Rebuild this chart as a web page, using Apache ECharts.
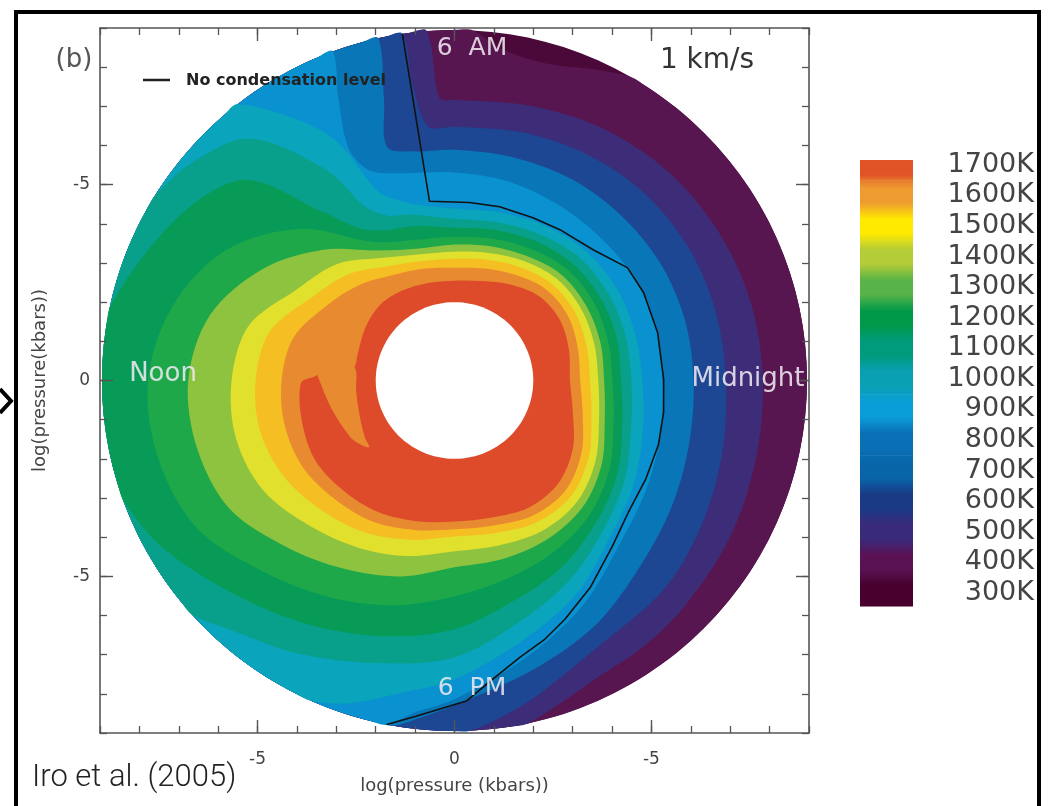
<!DOCTYPE html>
<html>
<head>
<meta charset="utf-8">
<script src="https://cdn.jsdelivr.net/npm/echarts@6.0.0/dist/echarts.min.js"></script>
<style>
  html, body { margin: 0; padding: 0; background: #fff; }
  #chart { width: 1052px; height: 806px; }
</style>
</head>
<body>
<div id="chart"></div>
<script>
// colour bar levels (K), hottest first
const levels = [1700, 1600, 1500, 1400, 1300, 1200, 1100, 1000, 900, 800, 700, 600, 500, 400, 300]

// outer edge of the map and the inner hole, in log(pressure) units
const rimRadius = 8.95
const holeRadius = 2.0

// isotherms: [angle in degrees (0 = midnight, 90 = 6 AM, 180 = noon), radius]
const edge1700 = [[0, 2.93], [15, 3.01], [30, 3.09], [45, 3.04], [60, 2.83], [75, 2.63], [90, 2.55], [105, 2.58], [120, 2.65], [135, 2.70], [150, 2.63], [165, 2.55], [172, 2.58], [176, 3.27], [178.5, 3.57], [181, 3.90], [195, 4.01], [210, 4.08], [225, 3.98], [240, 3.88], [255, 3.72], [270, 3.60], [285, 3.62], [300, 3.75], [315, 3.72], [330, 3.47], [345, 3.11]]
// cooler pocket that cuts into the 1700K region on the day side
const pocket1600 = [[168.7, 2.73], [171.7, 3.34], [176.2, 3.49], [181.7, 3.39], [188.5, 3.27], [196, 3.16], [204, 3.06], [211, 2.98], [218.2, 2.76], [212.6, 2.70], [203.8, 2.60], [194, 2.53], [185.2, 2.51], [174.8, 2.51]]
const edge1600 = [[0, 3.19], [15, 3.24], [30, 3.32], [45, 3.29], [60, 3.11], [75, 2.96], [90, 2.88], [105, 2.96], [120, 3.11], [135, 3.44], [150, 3.78], [165, 4.23], [180, 4.39], [195, 4.46], [210, 4.44], [225, 4.29], [240, 4.16], [255, 3.95], [270, 3.80], [285, 3.83], [300, 3.98], [315, 3.98], [330, 3.72], [345, 3.37]]
const edge1500 = [[0, 3.44], [15, 3.47], [30, 3.52], [45, 3.49], [60, 3.34], [75, 3.19], [90, 3.11], [105, 3.16], [120, 3.37], [135, 3.83], [150, 4.21], [165, 4.85], [180, 5.05], [195, 5.10], [210, 4.97], [225, 4.72], [240, 4.49], [255, 4.21], [270, 3.98], [285, 4.03], [300, 4.18], [315, 4.18], [330, 3.93], [345, 3.60]]
const edge1400 = [[0, 3.65], [15, 3.67], [30, 3.70], [45, 3.67], [60, 3.52], [75, 3.37], [90, 3.29], [105, 3.34], [120, 3.62], [135, 4.21], [150, 4.64], [165, 5.41], [180, 5.66], [195, 5.74], [210, 5.61], [225, 5.23], [240, 4.92], [255, 4.64], [270, 4.36], [285, 4.36], [300, 4.44], [315, 4.39], [330, 4.13], [345, 3.80]]
const edge1300 = [[0, 3.80], [15, 3.83], [30, 3.85], [45, 3.83], [60, 3.67], [75, 3.55], [90, 3.47], [105, 3.49], [120, 3.83], [135, 4.72], [150, 5.66], [165, 6.43], [180, 6.76], [195, 6.76], [210, 6.58], [225, 6.02], [240, 5.56], [255, 5.18], [270, 4.77], [285, 4.72], [300, 4.69], [315, 4.59], [330, 4.31], [345, 3.95]]
const edge1200 = [[0, 4.01], [15, 4.03], [30, 4.06], [45, 4.03], [60, 3.88], [75, 3.75], [90, 3.67], [105, 3.72], [120, 4.08], [135, 5.48], [150, 6.68], [165, 7.40], [180, 7.78], [195, 7.78], [210, 7.55], [225, 6.89], [240, 6.38], [255, 5.94], [270, 5.51], [285, 5.23], [300, 5.05], [315, 4.85], [330, 4.54], [345, 4.18]]
const edge1100 = [[0, 4.23], [15, 4.26], [30, 4.26], [45, 4.23], [60, 4.11], [75, 3.98], [90, 3.90], [105, 4.08], [115, 4.23], [122, 4.59], [128, 5.48], [135.6, 7.32], [145, 7.98], [157, 8.47], [168, 8.95], [200, 8.95], [210, 8.55], [225, 7.78], [240, 7.22], [255, 6.76], [270, 6.35], [285, 5.82], [300, 5.48], [315, 5.10], [330, 4.77], [345, 4.41]]
const edge1000 = [[0, 4.49], [15, 4.49], [30, 4.49], [45, 4.46], [60, 4.31], [75, 4.18], [90, 4.13], [105, 4.39], [112, 4.54], [117, 4.97], [121, 6.25], [130, 8.06], [140, 8.67], [148, 8.95], [222, 8.95], [228, 8.55], [240, 8.04], [255, 7.47], [270, 7.07], [285, 6.38], [300, 5.87], [315, 5.36], [330, 5.00], [345, 4.64]]
const edge900 = [[0, 4.77], [15, 4.74], [30, 4.74], [45, 4.69], [60, 4.57], [75, 4.44], [90, 4.39], [100, 4.54], [107, 4.80], [112, 5.23], [116, 6.76], [121, 7.78], [128, 8.95], [246, 8.95], [252, 8.67], [260, 8.11], [270, 7.63], [285, 6.84], [300, 6.25], [315, 5.61], [330, 5.26], [345, 4.95]]
const edge800 = [[0, 5.28], [15, 5.28], [30, 5.26], [45, 5.20], [60, 5.20], [75, 5.26], [90, 5.31], [105, 5.48], [112, 5.79], [114.4, 6.48], [112.3, 7.76], [110.2, 8.95], [259, 8.95], [263, 8.55], [270, 8.14], [285, 7.27], [300, 6.58], [315, 5.92], [330, 5.61], [345, 5.41]]
const edge700 = [[0, 6.07], [15, 6.05], [30, 6.02], [45, 5.97], [60, 5.94], [75, 5.89], [90, 5.89], [100, 5.94], [106, 6.20], [104, 7.40], [102.5, 8.95], [260, 8.95], [264, 8.67], [270, 8.29], [285, 7.65], [300, 7.19], [315, 6.68], [330, 6.38], [345, 6.17]]
const edge600 = [[0, 6.89], [15, 6.86], [30, 6.84], [45, 6.79], [60, 6.68], [75, 6.56], [90, 6.48], [96, 6.53], [98, 7.65], [98.5, 8.95], [272.5, 8.95], [278, 8.67], [285, 8.29], [297.5, 7.73], [315, 7.53], [330, 7.27], [345, 7.04]]
const edge500 = [[0, 7.83], [15, 7.78], [30, 7.70], [45, 7.60], [60, 7.45], [75, 7.27], [90, 7.17], [93, 7.22], [94.5, 8.95], [282, 8.95], [288, 8.67], [295, 8.42], [304.5, 8.32], [315, 8.21], [330, 8.06], [345, 7.91]]
const edge400 = [[0, 8.95], [60, 8.95], [66, 8.70], [74, 8.42], [82, 8.55], [87, 8.95], [180, 8.95], [270, 8.95]]

// "No condensation level" curve, [angle, radius]
const noCondensation = [[98.5, 8.95], [97.9, 4.62], [85.2, 4.56], [75.5, 4.58], [64.4, 4.61], [55.2, 4.69], [43.5, 4.85], [33.3, 5.25], [25.1, 5.30], [13.4, 5.30], [0.3, 5.31], [-8.7, 5.37], [-17.5, 5.43], [-27.5, 5.47], [-37.3, 5.55], [-46.6, 5.83], [-56.9, 6.31], [-65.3, 6.71], [-70.8, 6.99], [-76.8, 7.26], [-82.8, 7.69], [-87.9, 8.19], [-96.5, 8.63], [-101.1, 8.95]]

// axis ticks
const majorTicks = [-5, 0, 5]

// colours of the filled bands and of the colour bar, same order as levels
const bandColors = ['#DD4B2A', '#E88A2F', '#F5BE23', '#E1E02C', '#8DC33F', '#1EA84A', '#079B57', '#08A08B', '#0AA4BC', '#0A91D0', '#0976B7', '#1D4792', '#3D2C78', '#581651', '#4A0939']
const barColors = ['#E05428', '#EE9C30', '#FFEA00', '#B4CC38', '#58B448', '#00994A', '#009A7C', '#0AA0B4', '#0A9ED8', '#0A70B6', '#0866A8', '#1A3A86', '#3A2A7A', '#5A1254', '#48002E']
const barMin = 257
const barMax = 1716

const edgeByLevel = {
  1700: edge1700, 1600: edge1600, 1500: edge1500, 1400: edge1400, 1300: edge1300,
  1200: edge1200, 1100: edge1100, 1000: edge1000, 900: edge900, 800: edge800,
  700: edge700, 600: edge600, 500: edge500, 400: edge400
}
const drawOrder = levels.slice().reverse() // cold bands first, hot on top

const font = 'DejaVu Sans'
const axisColor = '#555'

function polarToXY(angle, r) {
  const t = angle * Math.PI / 180
  return [r * Math.cos(t), r * Math.sin(t)]
}

// points lying on the rim are joined along the rim circle
function withRim(edge) {
  const pts = []
  for (let i = 0; i < edge.length; i++) {
    const a = edge[i]
    const b = edge[(i + 1) % edge.length]
    pts.push(a)
    if (a[1] >= rimRadius && b[1] >= rimRadius) {
      const span = ((b[0] - a[0]) % 360 + 360) % 360
      const steps = Math.ceil(span / 3)
      for (let k = 1; k < steps; k++) pts.push([a[0] + span * k / steps, rimRadius])
    }
  }
  return pts
}

function circle(r) {
  const pts = []
  for (let a = 0; a < 360; a += 3) pts.push([a, r])
  return pts
}

function toPixels(pts, api) {
  return pts.map(p => api.coord(polarToXY(p[0], p[1])))
}

function tickLabel(v) {
  return v === 0 ? '0' : '-' + Math.abs(v)
}

// halfway colour between two hex colours, for the soft steps of the colour bar
function mix(c1, c2) {
  const a = parseInt(c1.slice(1), 16)
  const b = parseInt(c2.slice(1), 16)
  const ch = s => Math.round((((a >> s) & 255) + ((b >> s) & 255)) / 2)
  return 'rgb(' + ch(16) + ',' + ch(8) + ',' + ch(0) + ')'
}

// IDL style box: minor ticks every unit, long ticks at -5, 0, 5 on all four sides
function boxAxes(dim) {
  const sideA = dim === 'x' ? 'bottom' : 'left'
  const sideB = dim === 'x' ? 'top' : 'right'
  const base = { type: 'value', gridIndex: 0, min: -9, max: 9, z: 10, splitLine: { show: false } }
  const line = { show: true, onZero: false, lineStyle: { color: axisColor, width: 1.6 } }
  const noLine = { show: false, onZero: false }
  const minor = { show: true, inside: true, length: 7, lineStyle: { color: axisColor, width: 1.3 } }
  const major = { show: true, inside: true, length: 13, customValues: majorTicks, lineStyle: { color: axisColor, width: 1.4 } }
  const title = dim === 'x' ? 'log(pressure (kbars))' : 'log(pressure(kbars))'
  return [
    Object.assign({}, base, { position: sideA, interval: 1, axisLine: line, axisTick: minor, axisLabel: { show: false } }),
    Object.assign({}, base, {
      position: sideA, axisLine: noLine, axisTick: major,
      axisLabel: {
        customValues: majorTicks, formatter: tickLabel, margin: dim === 'x' ? 18 : 10,
        color: '#444', fontSize: 17, fontFamily: font
      },
      name: title, nameLocation: 'middle', nameGap: dim === 'x' ? 44 : 51,
      nameTextStyle: { color: '#444', fontSize: 18, fontFamily: font }
    }),
    Object.assign({}, base, { position: sideB, interval: 1, axisLine: line, axisTick: minor, axisLabel: { show: false } }),
    Object.assign({}, base, { position: sideB, axisLine: noLine, axisTick: major, axisLabel: { show: false } })
  ]
}

const chart = echarts.init(document.getElementById('chart'))

const labelFill = 'rgba(238, 232, 240, 0.88)'

const option = {
  animation: false,
  backgroundColor: '#fff',
  textStyle: { fontFamily: font },
  grid: [
    { left: 100, top: 28, width: 709, height: 705, outerBoundsMode: 'none' },
    { left: 860, top: 160, width: 53, height: 446, outerBoundsMode: 'none' }
  ],
  xAxis: boxAxes('x').concat([{ type: 'value', gridIndex: 1, min: 0, max: 1, show: false }]),
  yAxis: boxAxes('y').concat([{
    type: 'value', gridIndex: 1, min: barMin, max: barMax, position: 'right',
    axisLine: { show: false }, axisTick: { show: false }, splitLine: { show: false },
    axisLabel: {
      customValues: levels, formatter: v => v + 'K', align: 'right', margin: 121,
      color: '#444', fontSize: 27, fontFamily: font
    }
  }]),
  series: [
    {
      type: 'custom',
      name: 'temperature',
      xAxisIndex: 0,
      yAxisIndex: 0,
      z: 2,
      silent: true,
      data: drawOrder.map(level => ({ name: level + 'K', value: [0, 0] })),
      renderItem(params, api) {
        const level = drawOrder[params.dataIndex]
        const edge = level === 300 ? circle(rimRadius) : withRim(edgeByLevel[level])
        return {
          type: 'polygon',
          z2: params.dataIndex,
          shape: { points: toPixels(edge, api), smooth: level === 300 ? 0 : 0.33 },
          style: { fill: bandColors[levels.indexOf(level)] }
        }
      }
    },
    {
      type: 'custom',
      name: 'overlay',
      xAxisIndex: 0,
      yAxisIndex: 0,
      z: 3,
      silent: true,
      data: [[0, 0]],
      renderItem(params, api) {
        const c = api.coord([0, 0])
        const rx = api.coord([rimRadius, 0])[0] - c[0]
        const ry = c[1] - api.coord([0, rimRadius])[1]
        const rOut = Math.max(rx, ry)
        return {
          type: 'group',
          children: [
            {
              type: 'polygon',
              shape: { points: toPixels(pocket1600, api), smooth: 0.33 },
              style: { fill: bandColors[1] }
            },
            {
              type: 'polygon',
              shape: { points: toPixels(circle(holeRadius), api) },
              style: { fill: '#fff' }
            },
            {
              type: 'ring',
              shape: { cx: c[0], cy: c[1], r0: rOut + 0.5, r: rOut + 14 },
              style: { fill: '#fff' }
            }
          ]
        }
      }
    },
    {
      type: 'line',
      name: 'No condensation level',
      xAxisIndex: 0,
      yAxisIndex: 0,
      z: 4,
      silent: true,
      symbol: 'none',
      data: noCondensation.map(p => polarToXY(p[0], p[1])),
      lineStyle: { color: '#111', width: 1.6 }
    },
    {
      type: 'custom',
      name: 'colour bar',
      xAxisIndex: 4,
      yAxisIndex: 4,
      z: 2,
      silent: true,
      data: levels.map(level => [0.5, level]),
      renderItem(params, api) {
        const i = params.dataIndex
        const level = api.value(1)
        const hi = Math.min(level + 50, barMax)
        const lo = Math.max(level - 50, barMin)
        const p0 = api.coord([0, hi])
        const p1 = api.coord([1, lo])
        const cur = barColors[i]
        const above = i > 0 ? mix(barColors[i - 1], cur) : cur
        const below = i < barColors.length - 1 ? mix(cur, barColors[i + 1]) : cur
        return {
          type: 'rect',
          shape: { x: p0[0], y: p0[1], width: p1[0] - p0[0], height: p1[1] - p0[1] + 0.5 },
          style: {
            fill: {
              type: 'linear', x: 0, y: 0, x2: 0, y2: 1,
              colorStops: [
                { offset: 0, color: above }, { offset: 0.28, color: cur },
                { offset: 0.72, color: cur }, { offset: 1, color: below }
              ]
            }
          }
        }
      }
    }
  ],
  graphic: [
    { type: 'rect', z: 100, shape: { x: 16, y: 12, width: 1023, height: 830 }, style: { fill: 'none', stroke: '#000', lineWidth: 4 } },
    { type: 'polyline', z: 100, shape: { points: [[0, 389], [11, 401], [0, 413]] }, style: { fill: 'none', stroke: '#000', lineWidth: 4 } },
    { type: 'text', z: 100, x: 74, y: 60, style: { text: '(b)', font: '26px "DejaVu Sans"', fill: '#555', align: 'center', verticalAlign: 'middle' } },
    { type: 'line', z: 100, shape: { x1: 143, y1: 80, x2: 170, y2: 80 }, style: { stroke: '#222', lineWidth: 2.5 } },
    { type: 'text', z: 100, x: 186, y: 81, style: { text: 'No condensation level', font: 'bold 16px "DejaVu Sans"', fill: '#222', align: 'left', verticalAlign: 'middle' } },
    { type: 'text', z: 100, x: 707, y: 61, style: { text: '1 km/s', font: '28px "DejaVu Sans"', fill: '#333', align: 'center', verticalAlign: 'middle' } },
    { type: 'text', z: 100, x: 472, y: 48, style: { text: '6  AM', font: '25px "DejaVu Sans"', fill: labelFill, align: 'center', verticalAlign: 'middle' } },
    { type: 'text', z: 100, x: 163, y: 374, style: { text: 'Noon', font: '26px "DejaVu Sans"', fill: labelFill, align: 'center', verticalAlign: 'middle' } },
    { type: 'text', z: 100, x: 748, y: 379, style: { text: 'Midnight', font: '26px "DejaVu Sans"', fill: labelFill, align: 'center', verticalAlign: 'middle' } },
    { type: 'text', z: 100, x: 472, y: 688, style: { text: '6  PM', font: '25px "DejaVu Sans"', fill: labelFill, align: 'center', verticalAlign: 'middle' } },
    { type: 'text', z: 100, x: 32, y: 778, style: { text: 'Iro et al. (2005)', font: '300 31px Roboto', fill: '#222', align: 'left', verticalAlign: 'middle' } }
  ]
}

chart.setOption(option)
</script>
</body>
</html>
